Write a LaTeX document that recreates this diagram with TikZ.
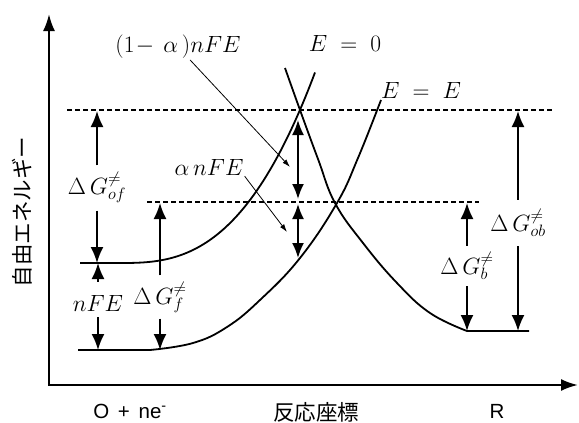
\RequirePackage{fix-cm}
\documentclass[tikz,border=0pt]{standalone}
\usepackage{fontspec}
\setsansfont{Liberation Sans}
\newfontfamily\cjk{Noto Sans CJK JP}
\usetikzlibrary{arrows.meta}
\begin{document}
\begin{tikzpicture}[x=1pt,y=-1pt,
  axis/.style={line width=2.2pt,{Latex[length=17pt,width=12pt]}-{Latex[length=17pt,width=12pt]}},
  curve/.style={line width=1.8pt,line join=round},
  dashline/.style={line width=1.2pt,dash pattern=on 5pt off 3pt},
  dimarrow/.style={line width=1.8pt,-{Latex[length=16pt,width=13pt]},shorten <=5pt},
  dblarrow/.style={line width=1.8pt,{Latex[length=15pt,width=12pt]}-{Latex[length=15pt,width=12pt]}},
  thinarrow/.style={line width=0.8pt,-{Latex[length=8pt,width=5pt]}},
  mlab/.style={font=\fontsize{23.5}{27}\selectfont,inner sep=1pt},
  slab/.style={font=\sffamily\fontsize{20.5}{23}\selectfont,inner sep=1pt},
  jlab/.style={font=\cjk\fontsize{21.5}{25}\selectfont,inner sep=1pt}]
\useasboundingbox (0,0) rectangle (579,423);

% axes
\coordinate (ytip) at (49,14);
\coordinate (orig) at (49,385);
\coordinate (xtip) at (578,385);
\draw[axis] (ytip) -- (orig) -- (xtip);

% dashed levels
\coordinate (d1a) at (67,110);
\coordinate (d1b) at (553,110);
\coordinate (d2a) at (147,202);
\coordinate (d2b) at (479,202);
\draw[dashline] (d1a) -- (d1b);
\draw[dashline] (d2a) -- (d2b);

% upper O curve (E = 0)
\draw[curve] (80,263) -- (120,263) -- plot[domain=120.5:315,samples=80]
  (\x,{263-63*((\x-120)/130)^2.73});
% lower O curve (E = E)
\draw[curve] (78,350) -- plot[smooth,tension=0.7] coordinates
  {(150,350) (193,343) (227,327) (260,300) (300,258) (337,203) (358,158) (381,100)};
% R curve
\draw[curve] plot[smooth,tension=0.7] coordinates
  {(285,68) (300,110) (318,159) (335,203) (363,243) (397,283) (430,313) (467,331)} -- (529,331);

% curve labels
\node[mlab] (e0) at (345,43) {$E\;=\;0$};
\node[mlab] (ee) at (421,90) {$E\;=\;E$};

% thin pointer arrows
\node[mlab] (lab1) at (178,47) {$(1\!-\,\alpha\,)nFE$};
\node[mlab] (lab2) at (209,167) {$\alpha\,nFE$};
\coordinate (t1) at (290,167);
\coordinate (t2) at (287,232);
\draw[thinarrow] (lab1) -- (t1);
\draw[thinarrow] (lab2.south east) -- (t2);

% double arrows at the crossing
\coordinate (m1) at (298,120);
\coordinate (m2) at (298,199);
\coordinate (m3) at (298,204);
\coordinate (m4) at (298,258);
\draw[dblarrow] (m1) -- (m2);
\draw[dblarrow] (m3) -- (m4);

% left dimension labels
\node[mlab] (gof) at (97,187) {$\Delta\,G^{\neq}_{of}$};
\coordinate (gofT) at (97,111);
\coordinate (gofB) at (97,263);
\draw[dimarrow,shorten <=5pt] (gof) -- (gofT);
\draw[dimarrow,shorten <=7pt] (gof) -- (gofB);

\node[mlab] (nfe) at (98,303) {$nFE$};
\coordinate (nfeT) at (98,263);
\coordinate (nfeB) at (98,350);
\draw[dimarrow,shorten <=12pt] (nfe) -- (nfeT);
\draw[dimarrow] (nfe) -- (nfeB);

\node[mlab] (gf) at (160,297) {$\Delta\,G^{\neq}_{f}$};
\coordinate (gfT) at (160,203);
\coordinate (gfB) at (160,350);
\draw[dimarrow] (gf) -- (gfT);
\draw[dimarrow] (gf) -- (gfB);

% right dimension labels
\node[mlab] (gb) at (467,266) {$\Delta\,G^{\neq}_{b}$};
\coordinate (gbT) at (467,203);
\coordinate (gbB) at (467,331);
\draw[dimarrow] (gb) -- (gbT);
\draw[dimarrow] (gb) -- (gbB);

\node[mlab] (gob) at (518,223) {$\Delta\,G^{\neq}_{ob}$};
\coordinate (gobT) at (518,111);
\coordinate (gobB) at (518,331);
\draw[dimarrow,shorten <=8pt] (gob) -- (gobT);
\draw[dimarrow,shorten <=8pt] (gob) -- (gobB);

% axis labels
\node[slab] (ox) at (130,411) {O\hspace{3pt} +\hspace{3pt} ne\textsuperscript{-}};
\node[jlab] (rc) at (316,412) {反応座標};
\node[slab] (rr) at (497,411) {R};
\node[jlab,rotate=90] (fe) at (22,212) {自由エネルギー};
\end{tikzpicture}
\end{document}
